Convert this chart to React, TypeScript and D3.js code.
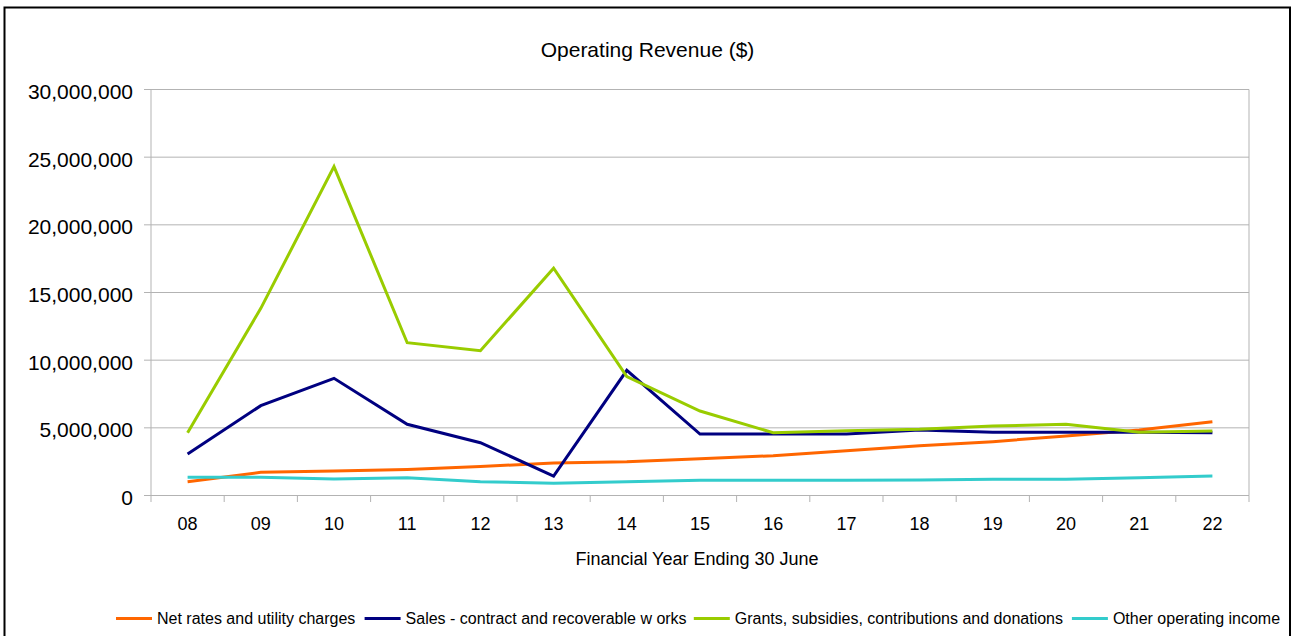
import React from "react";
import * as d3 from "d3";

const years = ["08", "09", "10", "11", "12", "13", "14", "15", "16", "17", "18", "19", "20", "21", "22"];
const netRates = [1.02, 1.71, 1.81, 1.93, 2.15, 2.4, 2.5, 2.72, 2.94, 3.31, 3.68, 3.98, 4.4, 4.84, 5.45].map((v) => v * 1e6);
const sales = [3.07, 6.64, 8.66, 5.26, 3.9, 1.44, 9.25, 4.54, 4.54, 4.54, 4.84, 4.67, 4.67, 4.67, 4.64].map((v) => v * 1e6);
const grants = [4.64, 13.83, 24.3, 11.29, 10.7, 16.79, 8.78, 6.24, 4.64, 4.79, 4.89, 5.14, 5.26, 4.67, 4.77].map((v) => v * 1e6);
const other = [1.34, 1.34, 1.22, 1.32, 1.02, 0.9, 1.02, 1.12, 1.12, 1.12, 1.15, 1.2, 1.2, 1.32, 1.44].map((v) => v * 1e6);
const yTicks = [0, 5e6, 10e6, 15e6, 20e6, 25e6, 30e6];

const seriesNames = [
  "Net rates and utility charges",
  "Sales - contract and recoverable w orks",
  "Grants, subsidies, contributions and donations",
  "Other operating income",
];
const seriesColors = ["#FF6600", "#000080", "#99CC00", "#33CCCC"];
const seriesValues = [netRates, sales, grants, other];
const legendX = [116, 364.6, 693.8, 1071.9];

const FONT = "'Liberation Sans', Arial, sans-serif";

export default function App() {
  const left = 151, right = 1249, top = 89.5, bottom = 495.5;
  const x = d3.scaleBand<string>().domain(years).range([left, right]).padding(0);
  const y = d3.scaleLinear().domain([0, 30e6]).range([bottom, top]);
  const fmt = d3.format(",");
  const line = d3
    .line<number>()
    .x((_, i) => (x(years[i]) as number) + x.bandwidth() / 2)
    .y((d) => y(d));
  const boundaries = years.map((yr) => x(yr) as number).concat([right]);

  return (
    <svg
      width={1292}
      height={636}
      style={{ position: "absolute", left: 0, top: 0, background: "#fff" }}
      fontFamily={FONT}
    >
      <rect x={0} y={0} width={1292} height={636} fill="#fff" />
      <rect x={4.5} y={7.5} width={1285.5} height={640} fill="#fff" stroke="#000" strokeWidth={2} />
      <text x={647.5} y={57} textAnchor="middle" fontSize={21} fill="#000">
        Operating Revenue ($)
      </text>
      {yTicks.map((t) => (
        <g key={t}>
          <line x1={left} x2={right} y1={y(t)} y2={y(t)} stroke="#b3b3b3" strokeWidth={1} />
          <line x1={144} x2={left} y1={y(t)} y2={y(t)} stroke="#b3b3b3" strokeWidth={1} />
          <text x={133} y={y(t) + 9.5} textAnchor="end" fontSize={21} fill="#000">
            {fmt(t)}
          </text>
        </g>
      ))}
      <line x1={left} x2={left} y1={top} y2={bottom} stroke="#b3b3b3" strokeWidth={1} />
      <line x1={right} x2={right} y1={top} y2={bottom} stroke="#b3b3b3" strokeWidth={1} />
      {boundaries.map((bx, i) => (
        <line key={i} x1={bx} x2={bx} y1={bottom} y2={502} stroke="#b3b3b3" strokeWidth={1} />
      ))}
      {years.map((yr) => (
        <text
          key={yr}
          x={(x(yr) as number) + x.bandwidth() / 2}
          y={530}
          textAnchor="middle"
          fontSize={18}
          fill="#000"
        >
          {yr}
        </text>
      ))}
      <text x={697} y={565} textAnchor="middle" fontSize={18} fill="#000">
        Financial Year Ending 30 June
      </text>
      {seriesValues.map((vals, i) => (
        <path
          key={i}
          d={line(vals) as string}
          fill="none"
          stroke={seriesColors[i]}
          strokeWidth={3}
        />
      ))}
      {seriesNames.map((name, i) => (
        <g key={name}>
          <line
            x1={legendX[i]}
            x2={legendX[i] + 36}
            y1={618.5}
            y2={618.5}
            stroke={seriesColors[i]}
            strokeWidth={3}
          />
          <text x={legendX[i] + 41} y={624} fontSize={16} fill="#000">
            {name}
          </text>
        </g>
      ))}
    </svg>
  );
}
